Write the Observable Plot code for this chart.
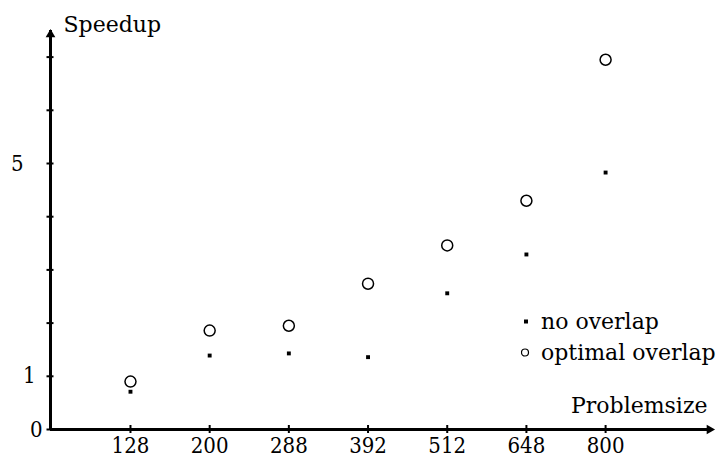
<!DOCTYPE html>
<html>
<head>
<meta charset="utf-8">
<script src="https://cdn.jsdelivr.net/npm/d3@7"></script>
<script src="https://cdn.jsdelivr.net/npm/@observablehq/plot@0.6"></script>
<style>
  body { margin: 0; background: #fff; }
  #wrap { position: relative; width: 720px; height: 458px; font-family: "DejaVu Serif", serif; }
  #legend { position: absolute; left: 521px; top: 306px; font-size: 22px; line-height: 31px; color: #000; }
  #legend .row { display: flex; align-items: center; white-space: nowrap; }
  #legend svg { width: 20px; height: 31px; flex: none; }
</style>
</head>
<body>
<div id="wrap"></div>
<script>
const categories = ["128", "200", "288", "392", "512", "648", "800"];
const noOverlap = [0.71, 1.39, 1.43, 1.36, 2.56, 3.29, 4.83];
const optimalOverlap = [0.90, 1.86, 1.95, 2.74, 3.46, 4.30, 6.95];
const yTickValues = [0, 1, 2, 3, 4, 5, 6, 7];
const seriesNames = ["no overlap", "optimal overlap"];
const xTitle = "Problemsize";
const yTitle = "Speedup";

const rows = categories.map((c, k) => ({i: k + 1, c, none: noOverlap[k], opt: optimalOverlap[k]}));
const xIdx = rows.map(r => r.i);
const xDomain = [-0.01, 8.35];
const yDomain = [0, 7.5];

const numFont = "'DejaVu Serif Condensed', 'DejaVu Serif', serif";
const intFmt = d => String(d);

const chart = Plot.plot({
  width: 720,
  height: 458,
  marginLeft: 50,
  marginRight: 8,
  marginTop: 30,
  marginBottom: 29,
  style: {fontFamily: "'DejaVu Serif', serif", fontSize: "22px", color: "#000", background: "#fff", overflow: "visible"},
  x: {domain: xDomain},
  y: {domain: yDomain},
  marks: [
    Plot.ruleY([yDomain[0]], {strokeWidth: 3, stroke: "black"}),
    Plot.ruleX([xDomain[0]], {strokeWidth: 3, stroke: "black"}),
    Plot.dot([xDomain[1]], {x: d => d, y: () => yDomain[0], symbol: "triangle", rotate: 90, r: 3.6, fill: "black", dx: -3}),
    Plot.dot([yDomain[1]], {x: () => xDomain[0], y: d => d, symbol: "triangle", r: 3.6, fill: "black", dy: 4}),
    Plot.axisY(yTickValues, {tickSize: 7, dx: 3.5, strokeWidth: 2, tickFormat: () => "", label: null}),
    Plot.axisY([0], {tickSize: 0, tickPadding: 8, tickFormat: intFmt, label: null, fontFamily: numFont}),
    Plot.axisY([1], {tickSize: 0, tickPadding: 15, tickFormat: intFmt, label: null, fontFamily: numFont}),
    Plot.axisY([5], {tickSize: 0, tickPadding: 27, tickFormat: intFmt, label: null, fontFamily: numFont}),
    Plot.axisX(xIdx, {tickSize: 8, dy: -4, strokeWidth: 2, tickFormat: () => "", label: null}),
    Plot.axisX(xIdx, {tickSize: 0, tickPadding: 8, tickFormat: i => categories[i - 1], label: null, fontFamily: numFont}),
    Plot.text([yTitle], {frameAnchor: "top-left", textAnchor: "start", lineAnchor: "bottom", dx: 13, dy: 1}),
    Plot.text([xTitle], {frameAnchor: "bottom-right", textAnchor: "end", lineAnchor: "bottom", dx: -5, dy: -17}),
    Plot.dot(rows, {x: "i", y: "opt", r: 5.5, stroke: "black", strokeWidth: 1.5, fill: "white"}),
    Plot.dot(rows, {x: "i", y: "none", symbol: "square", r: 2.2, fill: "black"})
  ]
});

const wrap = document.getElementById("wrap");
wrap.appendChild(chart);

const legend = document.createElement("div");
legend.id = "legend";
const symbols = [
  '<svg viewBox="0 0 20 31"><rect x="3" y="13.5" width="4" height="4" fill="black"/></svg>',
  '<svg viewBox="0 0 20 31"><circle cx="4" cy="15.5" r="3.5" fill="none" stroke="black" stroke-width="1.2"/></svg>'
];
seriesNames.forEach((name, k) => {
  const row = document.createElement("div");
  row.className = "row";
  row.innerHTML = symbols[k] + "<span>" + name + "</span>";
  legend.appendChild(row);
});
wrap.appendChild(legend);
</script>
</body>
</html>
